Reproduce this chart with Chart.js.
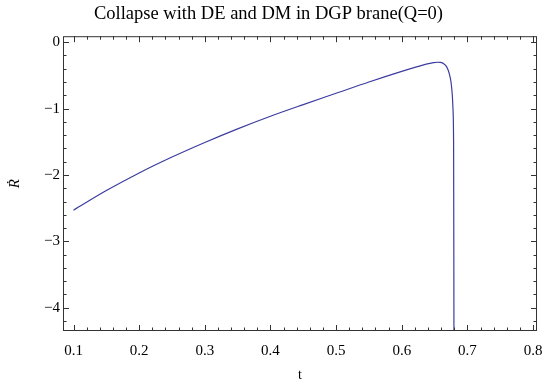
<!DOCTYPE html>
<html>
<head>
<meta charset="utf-8">
<script src="https://cdn.jsdelivr.net/npm/chart.js@4.4.1/dist/chart.umd.min.js"></script>
<style>
  html, body { margin: 0; padding: 0; background: #fff; }
  #wrap { width: 543px; height: 388px; }
</style>
</head>
<body>
<div id="wrap"><canvas id="chart"></canvas></div>
<script>
// t values and Rdot values
const tValues = [0.1, 0.15, 0.2, 0.25, 0.3, 0.35, 0.4, 0.45, 0.5, 0.55, 0.6, 0.62, 0.632, 0.641, 0.648, 0.654, 0.659, 0.664, 0.668, 0.672, 0.675, 0.677, 0.678, 0.679, 0.6795];
const rdotValues = [-2.53, -2.235, -1.97, -1.73, -1.51, -1.305, -1.115, -0.94, -0.77, -0.6, -0.44, -0.38, -0.346, -0.323, -0.309, -0.302, -0.305, -0.325, -0.365, -0.46, -0.6, -0.8, -1.0, -1.6, -4.4];
const xTicks = [0.1, 0.2, 0.3, 0.4, 0.5, 0.6, 0.7, 0.8];
const yTicks = [0, -1, -2, -3, -4];

const serif = '"Liberation Serif", "DejaVu Serif", serif';
const points = tValues.map((t, i) => ({ x: t, y: rdotValues[i] }));

// Mathematica-style frame with inward major/minor ticks on all sides
const frameTicks = {
    id: 'frameTicks',
    afterDatasetsDraw(chart) {
        const { ctx, chartArea: a, scales: { x, y } } = chart;
        ctx.save();
        ctx.strokeStyle = '#333';
        ctx.lineWidth = 1;
        ctx.strokeRect(a.left + 0.5, a.top + 0.5, a.right - a.left - 1, a.bottom - a.top - 1);
        ctx.beginPath();
        for (let k = 4; k <= 40; k++) {
            const v = k / 50;
            const px = Math.round(x.getPixelForValue(v)) + 0.5;
            if (px < a.left || px > a.right) continue;
            const len = (k % 5 === 0) ? 6 : 3.5;
            ctx.moveTo(px, a.bottom); ctx.lineTo(px, a.bottom - len);
            ctx.moveTo(px, a.top); ctx.lineTo(px, a.top + len);
        }
        for (let k = -22; k <= 0; k++) {
            const v = k / 5;
            const py = Math.round(y.getPixelForValue(v)) + 0.5;
            if (py < a.top || py > a.bottom) continue;
            const len = (k % 5 === 0) ? 6 : 3.5;
            ctx.moveTo(a.left, py); ctx.lineTo(a.left + len, py);
            ctx.moveTo(a.right, py); ctx.lineTo(a.right - len, py);
        }
        ctx.stroke();
        ctx.restore();
    }
};

new Chart(document.getElementById('chart'), {
    type: 'line',
    data: {
        datasets: [{
            data: points,
            borderColor: '#3c3ca0',
            borderWidth: 1.2,
            pointRadius: 0,
            fill: false,
            cubicInterpolationMode: 'monotone'
        }]
    },
    options: {
        responsive: true,
        maintainAspectRatio: false,
        animation: false,
        layout: { padding: { top: 0, right: 6, left: 0, bottom: 0 } },
        plugins: {
            legend: { display: false },
            tooltip: { enabled: false },
            title: {
                display: true,
                text: 'Collapse with DE and DM in DGP brane(Q=0)',
                color: '#000',
                font: { family: serif, size: 18.5, weight: 'normal' },
                padding: { top: 3, bottom: 11 }
            }
        },
        scales: {
            x: {
                type: 'linear',
                min: 0.084,
                max: 0.806,
                afterBuildTicks: s => { s.ticks = xTicks.map(v => ({ value: v })); },
                afterFit: s => { s.height = 57; s.paddingLeft = 0; s.paddingRight = 0; },
                grid: { display: false },
                border: { display: false },
                ticks: {
                    color: '#000',
                    font: { family: serif, size: 15 },
                    padding: 3,
                    maxRotation: 0,
                    callback: v => v.toFixed(1)
                },
                title: {
                    display: true,
                    text: 't',
                    color: '#000',
                    font: { family: serif, size: 14 },
                    padding: { top: 12 }
                }
            },
            y: {
                type: 'linear',
                min: -4.35,
                max: 0.09,
                afterBuildTicks: s => { s.ticks = yTicks.map(v => ({ value: v })); },
                afterFit: s => { s.width = 63; s.paddingTop = 0; s.paddingBottom = 0; },
                grid: { display: false },
                border: { display: false },
                ticks: {
                    color: '#000',
                    font: { family: serif, size: 15 },
                    padding: -5,
                    callback: v => (v < 0 ? '\u2212' + Math.abs(v) : String(v))
                },
                title: {
                    display: true,
                    text: '\u1E58',
                    color: '#000',
                    font: { family: serif, size: 15, style: 'italic' },
                    padding: { top: 6, bottom: 0 }
                }
            }
        }
    },
    plugins: [frameTicks]
});
</script>
</body>
</html>
